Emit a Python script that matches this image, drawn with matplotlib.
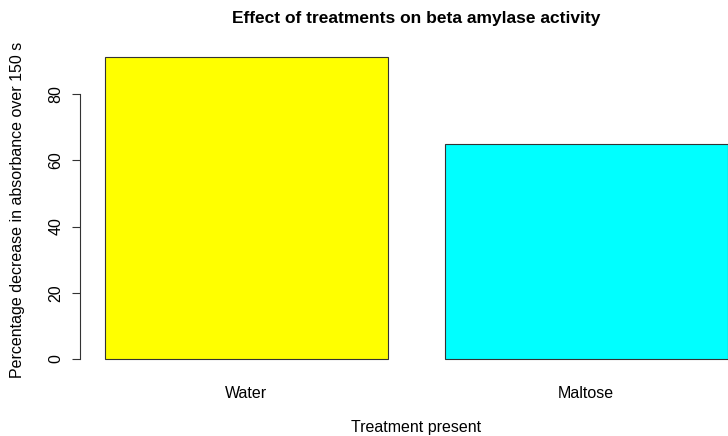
import matplotlib
matplotlib.use("Agg")
import matplotlib.pyplot as plt

treatments = ["Water", "Maltose"]
decrease = [91.2, 64.9]
colours = ["#FFFF00", "#00FFFF"]
yticks = [0, 20, 40, 60, 80]

plt.rcParams['font.family'] = ['Liberation Sans', 'DejaVu Sans']

W, H = 728, 436
fig = plt.figure(figsize=(W / 100, H / 100), dpi=100)

# plot region in pixels (R style: bars width 1, space 0.2)
left, right, top, bottom = 80, 728, 45, 371
ax = fig.add_axes([left / W, 1 - bottom / H, (right - left) / W, (bottom - top) / H])

xpos = [0.2 + 1.2 * i + 0.5 for i in range(len(treatments))]
ax.bar(xpos, decrease, width=1.0, color=colours, edgecolor="#333333", linewidth=0.8)

px_per_unit = 283
ax.set_xlim(0.112, 0.112 + (right - left) / px_per_unit)
ax.set_ylim(-3.65, 94.85)

for s in ["top", "right", "bottom"]:
    ax.spines[s].set_visible(False)
ax.spines["left"].set_bounds(0, 80)
ax.spines["left"].set_color("#333333")
ax.spines["left"].set_linewidth(0.8)

fs = 11.5
ax.set_yticks(yticks)
ax.set_yticklabels([str(t) for t in yticks], rotation=90, va="center", fontsize=fs)
ax.tick_params(axis="y", length=6, width=0.8, color="#333333", pad=6)
ax.set_xticks(xpos)
ax.set_xticklabels(treatments, fontsize=fs)
ax.tick_params(axis="x", length=0, pad=11)

fig.text(416 / W, 1 - 19 / H, "Effect of treatments on beta amylase activity",
         ha="center", va="center", fontsize=12.5, fontweight="bold")
fig.text(416 / W, 1 - 427 / H, "Treatment present", ha="center", va="center", fontsize=fs)
fig.text(18 / W, 1 - 210 / H, "Percentage decrease in absorbance over 150 s",
         ha="center", va="center", rotation=90, fontsize=fs)

fig.savefig("out.png", dpi=100)
